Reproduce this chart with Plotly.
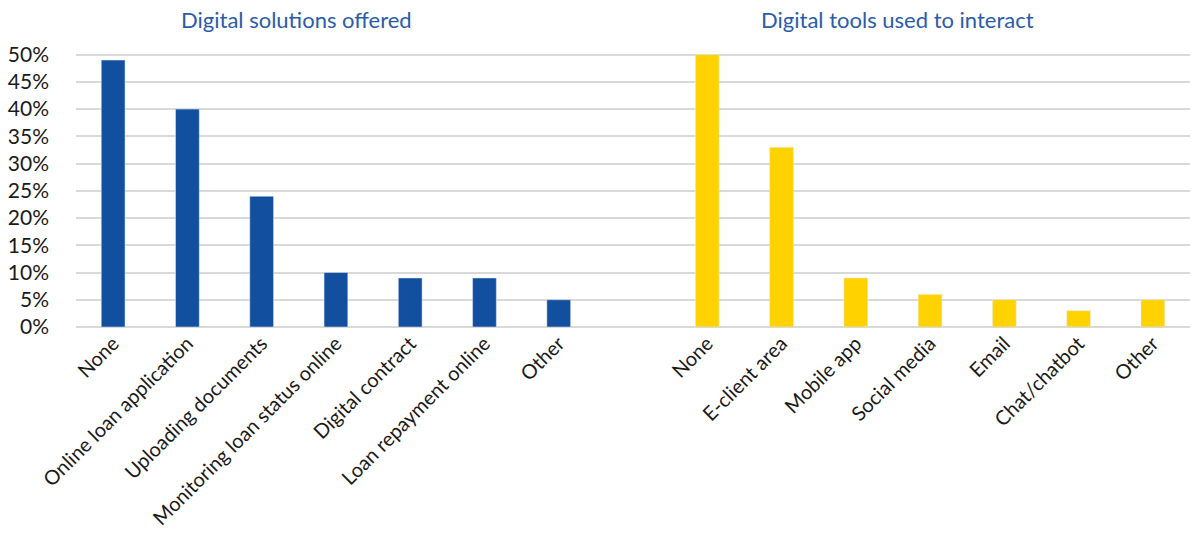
import plotly.graph_objects as go

solutions_labels = ["None", "Online loan application", "Uploading documents",
                    "Monitoring loan status online", "Digital contract",
                    "Loan repayment online", "Other"]
solutions_values = [49, 40, 24, 10, 9, 9, 5]

tools_labels = ["None", "E-client area", "Mobile app", "Social media",
                "Email", "Chat/chatbot", "Other"]
tools_values = [50, 33, 9, 6, 5, 3, 5]

titles = ["Digital solutions offered", "Digital tools used to interact"]
y_ticks = [0, 5, 10, 15, 20, 25, 30, 35, 40, 45, 50]

BLUE = "#12509f"
YELLOW = "#ffd200"
FONT = "Lato, 'Open Sans', sans-serif"

x_sol = list(range(len(solutions_labels)))
x_tools = [len(solutions_labels) + 1 + i for i in range(len(tools_labels))]

fig = go.Figure()
fig.add_trace(go.Bar(x=x_sol, y=solutions_values, marker_color=BLUE,
                     width=0.32, name=titles[0], hoverinfo="y"))
fig.add_trace(go.Bar(x=x_tools, y=tools_values, marker_color=YELLOW,
                     width=0.32, name=titles[1], hoverinfo="y"))

fig.add_annotation(text=titles[0], xref="x", x=2.47, yref="paper", y=1.0,
                   yanchor="bottom", yshift=18, showarrow=False,
                   font=dict(size=22, color="#2a5caa", family=FONT))
fig.add_annotation(text=titles[1], xref="x", x=10.56, yref="paper", y=1.0,
                   yanchor="bottom", yshift=18, showarrow=False,
                   font=dict(size=22, color="#2a5caa", family=FONT))

fig.update_layout(
    width=1198, height=553,
    margin=dict(l=73, r=8, t=53, b=226),
    plot_bgcolor="white", paper_bgcolor="white",
    showlegend=False,
    font=dict(family=FONT, color="#1a1a1a"),
    xaxis=dict(range=[-0.5, 14.5], tickmode="array",
               tickvals=x_sol + x_tools,
               ticktext=solutions_labels + tools_labels,
               tickangle=-45, tickfont=dict(size=20), showgrid=False,
               showline=False, ticks=""),
    yaxis=dict(range=[0, 50.3], tickmode="array", tickvals=y_ticks,
               ticktext=[f"{v}%" for v in y_ticks],
               tickfont=dict(size=21), showgrid=True, gridcolor="#d9d9d9",
               gridwidth=2, zeroline=True, zerolinecolor="#d9d9d9",
               zerolinewidth=2, ticks="", ticklabelstandoff=26),
)

fig.write_html("out.html", config={"displayModeBar": False},
               post_script="document.body.style.margin='0';"
                           "document.body.style.overflow='hidden';")
